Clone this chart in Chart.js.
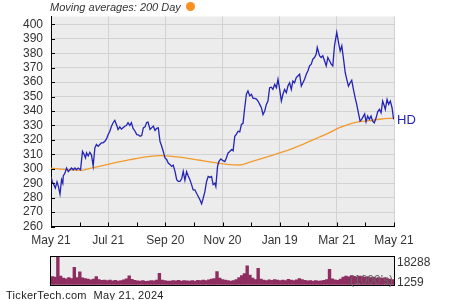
<!DOCTYPE html>
<html lang="en">
<head>
<meta charset="UTF-8">
<title>HD - Moving averages: 200 Day</title>
<style>
    body { margin: 0; background: #fff; font-family: "Liberation Sans", Arial, sans-serif; }
    #wrap { position: relative; width: 450px; height: 300px; overflow: hidden; }
    #main { position: absolute; left: 0; top: 0; }
    #vol { position: absolute; left: 0; top: 250px; }
    .title { position: absolute; left: 50px; top: 1px; font-size: 11px; font-style: italic; color: #333; white-space: nowrap; }
    .dot { position: absolute; left: 186px; top: 2px; width: 9px; height: 9px; border-radius: 50%; background: #f7901e; }
    .footer { position: absolute; left: 6px; top: 289px; font-size: 11px; color: #222; white-space: nowrap; letter-spacing: 0.3px; }
</style>
</head>
<body>
<div id="wrap">
    <canvas id="main" width="450" height="250"></canvas>
    <canvas id="vol" width="450" height="40"></canvas>
    <div class="title">Moving averages: 200 Day</div>
    <div class="dot"></div>
    <div class="footer">TickerTech.com&nbsp;&nbsp;May 21, 2024</div>
</div>

<script src="https://cdn.jsdelivr.net/npm/chart.js@4.4.0/dist/chart.umd.min.js"></script>
<script>
    // x values are calendar days since May 21, 2023
    const xTickLabels = ['May 21', 'Jul 21', 'Sep 20', 'Nov 20', 'Jan 19', 'Mar 21', 'May 21'];
    const xMajorStep = 61;
    const yTicks = [260, 270, 280, 290, 300, 310, 320, 330, 340, 350, 360, 370, 380, 390, 400];

    const priceDays = [
        0, 1.4, 3.0, 4.6, 6.4, 7.8, 9.6, 11.3, 12.6, 13.1, 14.9, 16.6, 18.4, 20.2, 21.9, 23.7, 25.5, 27.2, 29.0, 31.5,
        33.6, 35.4, 36.8, 37.9, 39.7, 41.5, 43.2, 45.0, 46.8, 48.5, 50.3, 52.1, 53.8, 55.6, 57.5, 59.2, 61.0, 62.8, 64.5, 66.3,
        68.1, 69.8, 71.6, 73.4, 75.1, 76.9, 78.7, 80.4, 82.2, 84.1, 85.8, 87.6, 89.7, 91.5, 93.2, 95.0, 96.8, 98.5, 100.3, 102.1,
        103.5, 105.7, 107.5, 109.2, 111.0, 112.8, 114.5, 116.3, 118.1, 119.8, 121.6, 123.4, 125.1, 126.9, 128.7, 130.4, 132.3, 134.1, 135.8, 137.6,
        139.4, 141.1, 142.9, 144.7, 146.4, 148.2, 150.0, 151.7, 153.5, 155.3, 157.0, 158.9, 160.7, 162.4, 164.2, 166.0, 167.7, 169.5, 171.3, 173.0,
        174.8, 175.9, 177.7, 179.1, 181.2, 183.6, 185.5, 187.1, 189.0, 190.8, 192.6, 194.3, 196.1, 197.9, 199.6, 201.4, 203.2, 204.9, 206.7, 208.5,
        210.2, 212.1, 213.9, 215.6, 217.4, 219.2, 220.9, 222.7, 224.5, 226.2, 228.0, 229.8, 231.5, 233.3, 235.1, 236.8, 238.7, 240.5, 242.2, 244.0,
        245.8, 247.5, 249.3, 251.1, 252.8, 254.6, 256.4, 258.1, 259.9, 261.7, 263.4, 265.3, 267.1, 268.8, 270.6, 272.4, 274.1, 275.9, 277.7, 279.4,
        281.2, 283.0, 284.1, 286.5, 288.3, 290.0, 291.9, 293.7, 295.4, 297.2, 299.0, 300.7, 302.5, 304.9, 307.1, 308.6, 310.3, 312.4, 313.9, 315.6,
        317.4, 319.2, 320.9, 322.7, 324.5, 326.2, 328.0, 329.8, 331.5, 333.4, 334.7, 336.2, 337.9, 339.7, 341.5, 343.2, 345.0, 346.9, 348.6, 350.4,
        352.2, 353.9, 355.7, 356.7, 358.6, 360.3, 362.1, 363.9, 365.6
    ];
    const priceValues = [
        294.5, 291.0, 289.0, 286.6, 291.0, 288.0, 282.4, 292.4, 290.0, 295.0, 297.0, 300.5, 298.0, 299.3, 300.5, 299.3, 300.5, 299.3, 300.5, 299.3,
        312.0, 309.8, 307.5, 311.0, 309.0, 311.4, 309.5, 302.0, 314.5, 316.8, 315.5, 316.8, 318.0, 318.0, 319.0, 320.7, 323.7, 326.0, 329.5, 331.9,
        333.5, 330.7, 327.2, 329.0, 327.5, 328.5, 329.5, 330.0, 331.9, 330.0, 332.0, 328.0, 326.0, 323.7, 323.5, 322.5, 323.0, 328.3, 329.0, 332.0,
        332.3, 327.2, 328.5, 329.5, 326.5, 328.0, 328.4, 319.0, 315.6, 312.0, 307.5, 306.5, 304.0, 303.0, 301.6, 302.5, 298.2, 292.4, 291.2, 291.2,
        293.0, 298.2, 292.0, 298.0, 295.0, 292.4, 289.0, 285.4, 285.4, 283.0, 281.0, 278.5, 275.7, 279.6, 284.2, 291.2, 294.7, 294.0, 294.7, 289.0,
        290.0, 287.7, 301.6, 305.0, 306.8, 305.6, 305.0, 307.5, 311.0, 312.0, 313.3, 312.5, 322.5, 324.0, 326.0, 325.5, 330.7, 331.5, 342.3, 351.6,
        353.9, 350.5, 351.6, 348.8, 348.8, 348.3, 346.9, 344.6, 342.3, 337.6, 339.9, 344.6, 346.9, 356.2, 356.5, 355.0, 358.5, 356.2, 362.0, 355.0,
        346.9, 351.6, 355.0, 352.7, 357.3, 359.6, 355.0, 360.8, 359.6, 363.2, 364.3, 365.5, 357.3, 359.6, 362.0, 365.5, 367.8, 371.3, 372.5, 376.0,
        377.1, 379.5, 384.1, 378.3, 377.1, 378.3, 374.8, 371.3, 377.1, 374.8, 372.5, 371.3, 385.2, 394.5, 386.4, 381.7, 385.2, 374.8, 366.7, 362.0,
        357.3, 359.6, 361.3, 355.0, 349.3, 344.6, 338.8, 333.0, 334.2, 336.5, 338.0, 332.5, 336.5, 334.2, 336.5, 333.0, 331.9, 335.3, 339.5, 341.2,
        338.8, 346.9, 343.5, 341.2, 348.1, 344.6, 346.9, 342.3, 334.2
    ];

    const maDays = [
        0, 9.9, 20.5, 31.2, 41.8, 52.5, 63.1, 73.7, 84.4, 95.0, 105.7, 116.3, 126.9, 137.6, 148.2, 158.9, 169.5, 180.2,
        190.8, 201.4, 212.1, 222.7, 233.3, 244.0, 254.6, 265.3, 275.9, 286.5, 297.2, 307.8, 318.5, 329.1, 339.7, 350.4, 361.0, 365.6
    ];
    const maValues = [
        300.5, 299.8, 299.2, 298.9, 300.2, 301.9, 303.4, 305.0, 306.3, 307.6, 308.6, 309.1, 308.8, 308.0, 307.0, 305.9, 304.8, 303.8,
        302.8, 302.6, 304.6, 306.7, 308.8, 311.0, 313.2, 316.0, 319.0, 322.0, 325.0, 328.5, 331.0, 332.6, 333.3, 334.3, 334.9, 335.0
    ];

    // volume in 1000's, one bar per two trading days
    const volumeValues = [
        6200, 5800, 18288, 6500, 5200, 4800, 5500, 4900, 11800, 5600, 9100, 5400, 5000, 4600, 4200, 4700, 6100, 4300, 3900, 4100,
        3700, 4000, 3600, 3900, 3500, 3800, 4200, 4800, 6600, 4500, 3900, 3600, 3400, 3700, 3300, 3500, 3800, 3600, 4000, 8200,
        4100, 3700, 3500, 3400, 3700, 3600, 3900, 3500, 3800, 3600, 3400, 3700, 3500, 3900, 3700, 4000, 3800, 4200, 4600, 5000,
        9200, 5200, 4300, 4000, 3700, 3500, 3800, 4400, 5600, 6800, 8000, 12600, 7000, 5200, 4400, 11200, 4600, 4100, 3800, 4200,
        3900, 4300, 4000, 3700, 4100, 3800, 4500, 4000, 3700, 4200, 5000, 4300, 3900, 3600, 3800, 3500, 3700, 3400, 3600, 3900,
        4400, 10600, 4800, 4200, 3900, 4600, 5800, 6400, 6000, 6700, 6300, 5900, 6500, 6100, 5700, 6200, 5600, 5900, 5300, 5600,
        5100, 5400, 5000, 4700, 4400
    ];
    const volumeMin = 1259;
    const volumeMax = 18288;

    const plotBackground = {
        id: 'plotBackground',
        beforeDraw(chart) {
            const { ctx, chartArea: a } = chart;
            ctx.save();
            ctx.fillStyle = '#ececec';
            ctx.fillRect(a.left, a.top, a.right - a.left, a.bottom - a.top);
            ctx.restore();
        }
    };

    const innerTicks = {
        id: 'innerTicks',
        afterDraw(chart) {
            const { ctx, chartArea: a, scales } = chart;
            ctx.save();
            ctx.strokeStyle = '#000';
            ctx.lineWidth = 1;
            ctx.beginPath();
            scales.x.ticks.forEach(t => {
                const px = Math.round(scales.x.getPixelForValue(t.value)) + 0.5;
                ctx.moveTo(px, a.bottom);
                ctx.lineTo(px, a.bottom - 4);
            });
            scales.y.ticks.forEach(t => {
                const py = Math.round(scales.y.getPixelForValue(t.value)) + 0.5;
                ctx.moveTo(a.left, py);
                ctx.lineTo(a.left + 4, py);
            });
            ctx.stroke();
            // symbol next to the last price
            const last = priceValues[priceValues.length - 1];
            ctx.fillStyle = '#2424b4';
            ctx.font = '13px "Liberation Sans", Arial, sans-serif';
            ctx.textBaseline = 'middle';
            ctx.fillText('HD', a.right + 3, scales.y.getPixelForValue(last) + 1);
            ctx.restore();
        }
    };

    const xTickValues = [];
    for (let i = 0; i <= (xTickLabels.length - 1) * 2; i++) xTickValues.push(i * xMajorStep / 2);

    new Chart(document.getElementById('main'), {
        type: 'line',
        data: {
            datasets: [{
                label: 'HD',
                data: priceDays.map((d, i) => ({ x: d, y: priceValues[i] })),
                borderColor: '#2424b4',
                borderWidth: 1.3,
                pointRadius: 0,
                tension: 0
            }, {
                label: '200 Day',
                data: maDays.map((d, i) => ({ x: d, y: maValues[i] })),
                borderColor: '#f39a2e',
                borderWidth: 1.3,
                pointRadius: 0,
                cubicInterpolationMode: 'monotone'
            }]
        },
        options: {
            responsive: false,
            animation: false,
            layout: { padding: { top: 16.5, right: 56, left: 0, bottom: 0 } },
            plugins: { legend: { display: false }, tooltip: { enabled: false } },
            scales: {
                x: {
                    type: 'linear',
                    min: 0,
                    max: xMajorStep * (xTickLabels.length - 1),
                    afterBuildTicks: s => { s.ticks = xTickValues.map(v => ({ value: v })); },
                    afterFit: s => { s.height = 23.5; },
                    grid: {
                        drawTicks: false,
                        color: c => (c.tick && c.index % 2 === 0) ? '#d2d2d2' : 'transparent'
                    },
                    border: { display: true, color: '#000', width: 1 },
                    ticks: {
                        autoSkip: false,
                        maxRotation: 0,
                        padding: 7,
                        color: '#333',
                        font: { family: '"Liberation Sans", Arial, sans-serif', size: 12 },
                        callback: (v, i) => i % 2 === 0 ? xTickLabels[i / 2] : ''
                    }
                },
                y: {
                    min: 260,
                    max: 405.5,
                    afterBuildTicks: s => { s.ticks = yTicks.map(v => ({ value: v })); },
                    afterFit: s => { s.width = 51; },
                    grid: { drawTicks: false, color: '#d2d2d2' },
                    border: { display: true, color: '#000', width: 1 },
                    ticks: {
                        autoSkip: false,
                        padding: 8,
                        color: '#333',
                        font: { family: '"Liberation Sans", Arial, sans-serif', size: 12 }
                    }
                }
            }
        },
        plugins: [plotBackground, innerTicks]
    });

    const volumeFrame = {
        id: 'volumeFrame',
        afterDraw(chart) {
            const { ctx, chartArea: a } = chart;
            ctx.save();
            ctx.strokeStyle = '#000';
            ctx.lineWidth = 1;
            ctx.strokeRect(Math.round(a.left) - 0.5, Math.round(a.top) - 0.5, Math.round(a.right - a.left) + 1, Math.round(a.bottom - a.top) + 1);
            ctx.font = '12px "Liberation Sans", Arial, sans-serif';
            ctx.fillStyle = '#333';
            ctx.textBaseline = 'middle';
            ctx.fillText(String(volumeMax), a.right + 3, a.top + 6.5);
            ctx.fillText(String(volumeMin), a.right + 3, a.bottom - 2.5);
            ctx.fillStyle = '#666';
            ctx.textAlign = 'right';
            ctx.fillText("(1000's)", a.right - 1, a.bottom - 4);
            ctx.restore();
        }
    };

    new Chart(document.getElementById('vol'), {
        type: 'bar',
        data: {
            labels: volumeValues.map((v, i) => i),
            datasets: [{
                data: volumeValues,
                backgroundColor: '#8f2d60',
                borderWidth: 0,
                barPercentage: 1,
                categoryPercentage: 1
            }]
        },
        options: {
            responsive: false,
            animation: false,
            layout: { padding: { top: 6.5, right: 56, left: 51, bottom: 5.3 } },
            plugins: { legend: { display: false }, tooltip: { enabled: false } },
            scales: {
                x: { display: false },
                y: { display: false, min: volumeMin, max: volumeMax }
            }
        },
        plugins: [plotBackground, volumeFrame]
    });
</script>
</body>
</html>
